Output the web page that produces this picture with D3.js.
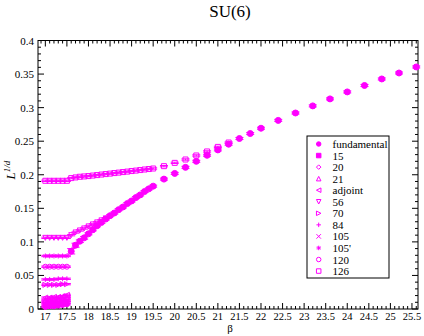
<!DOCTYPE html>
<html>
<head>
<meta charset="utf-8">
<script src="https://cdn.jsdelivr.net/npm/d3@7"></script>
<style>
  body { margin: 0; background: #fff; }
  svg { display: block; }
  text { font-family: "Liberation Serif", "DejaVu Serif", serif; fill: #000; }
</style>
</head>
<body>
<script>
// beta values
const betaConf = [17.0, 17.1, 17.2, 17.3, 17.4, 17.5];
const betaFund = [17.6, 17.7, 17.8, 17.9, 18.0, 18.1, 18.2, 18.3, 18.4, 18.5,
  18.6, 18.7, 18.8, 18.9, 19.0, 19.1, 19.2, 19.3, 19.4, 19.5,
  19.75, 20.0, 20.25, 20.5, 20.75, 21.0, 21.25, 21.5, 21.75, 22.0,
  22.4, 22.8, 23.2, 23.6, 24.0, 24.4, 24.8, 25.2, 25.6];
const beta56 = [17.6, 17.7, 17.8, 17.9, 18.0, 18.1, 18.2, 18.3, 18.4];
const beta126 = [17.6, 17.7, 17.8, 17.9, 18.0, 18.1, 18.2, 18.3, 18.4, 18.5,
  18.6, 18.7, 18.8, 18.9, 19.0, 19.1, 19.2, 19.3, 19.4, 19.5,
  19.75, 20.0, 20.25, 20.5, 20.75, 21.0, 21.25];

// L^{1/d} values
const fundamental = [0.086, 0.095, 0.101, 0.106, 0.112, 0.118, 0.124, 0.129, 0.134, 0.139,
  0.143, 0.148, 0.152, 0.157, 0.161, 0.166, 0.170, 0.175, 0.179, 0.183,
  0.1935, 0.202, 0.211, 0.220, 0.229, 0.237, 0.2455, 0.254, 0.2614, 0.2693,
  0.281, 0.292, 0.3026, 0.313, 0.3234, 0.333, 0.3427, 0.3516, 0.3606];
const fundErr = [0.004, 0.003, 0.002, 0.002, 0.0015, 0.0015, 0.0015, 0.0015, 0.0015, 0.0015,
  0.0015, 0.0015, 0.0015, 0.0015, 0.0015, 0.0015, 0.0015, 0.0015, 0.0015, 0.0015,
  0.0015, 0.0015, 0.0015, 0.0015, 0.0015, 0.0015, 0.0015, 0.0015, 0.0015, 0.0015,
  0.0015, 0.0015, 0.0015, 0.0015, 0.0015, 0.0015, 0.0015, 0.0015, 0.0015];
const fundConf = [0.003, 0.004, 0.004, 0.005, 0.006, 0.007];
const rep15 = [0.006, 0.007, 0.007, 0.008, 0.009, 0.010];
const rep20 = [0.011, 0.011, 0.012, 0.012, 0.013, 0.015];
const rep21 = [0.013, 0.014, 0.014, 0.015, 0.016, 0.018];
const repAdj = [0.017, 0.017, 0.018, 0.018, 0.019, 0.021];
const rep56 = [0.106, 0.106, 0.106, 0.106, 0.106, 0.106];
const rep56High = [0.110, 0.114, 0.117, 0.120, 0.123, 0.126, 0.129, 0.132, 0.135];
const rep70 = [0.036, 0.036, 0.036, 0.036, 0.037, 0.037];
const rep84 = [0.044, 0.044, 0.044, 0.045, 0.045, 0.045];
const rep105 = [0.009, 0.009, 0.010, 0.010, 0.011, 0.012];
const rep105p = [0.079, 0.079, 0.079, 0.079, 0.079, 0.079];
const rep120 = [0.063, 0.063, 0.063, 0.063, 0.063, 0.063];
const rep126 = [0.191, 0.191, 0.191, 0.191, 0.191, 0.191];
const rep126High = [0.195, 0.196, 0.197, 0.1975, 0.198, 0.1988, 0.1995, 0.2003, 0.201, 0.2017,
  0.2025, 0.2032, 0.204, 0.2047, 0.2055, 0.2062, 0.207, 0.2078, 0.2085, 0.2093,
  0.2128, 0.2177, 0.2227, 0.2287, 0.2347, 0.2415, 0.248];

const legendNames = ['fundamental', '15', '20', '21', 'adjoint', '56', '70', '84', '105', "105'", '120', '126'];
const legendShapes = ['circle', 'fsquare', 'diamond', 'triup', 'trileft', 'tridown', 'triright', 'plus', 'cross', 'star', 'ocircle', 'osquare'];

const xTicks = d3.range(17, 25.51, 0.5);
const yTicks = d3.range(0, 0.401, 0.05);

const width = 424, height = 336;
const mLeft = 38, mRight = 418, mTop = 40.5, mBottom = 309;
const magenta = '#ff00ff';

const svg = d3.select('body').append('svg')
  .attr('width', width)
  .attr('height', height);

const x = d3.scaleLinear().domain([16.83, 25.64]).range([mLeft, mRight]);
const y = d3.scaleLinear().domain([0, 0.4]).range([mBottom, mTop]);

// title
svg.append('text')
  .attr('x', 230).attr('y', 17)
  .attr('text-anchor', 'middle')
  .style('font-size', '17px')
  .text('SU(6)');

// frame
svg.append('rect')
  .attr('x', mLeft).attr('y', mTop)
  .attr('width', mRight - mLeft).attr('height', mBottom - mTop)
  .attr('fill', 'none').attr('stroke', '#000').attr('stroke-width', 1);

// ticks, inward on all sides
const xMinor = d3.range(16.9, 25.64, 0.1).map(v => Math.round(v * 10) / 10);
const yMinor = d3.range(0, 0.4001, 0.01).map(v => Math.round(v * 100) / 100);
const ticks = svg.append('g').attr('stroke', '#000').attr('stroke-width', 1);
xMinor.forEach(v => {
  const major = Math.abs(v * 2 - Math.round(v * 2)) < 1e-6;
  const len = major ? 6 : 3;
  ticks.append('line').attr('x1', x(v)).attr('x2', x(v)).attr('y1', mBottom).attr('y2', mBottom - len);
  ticks.append('line').attr('x1', x(v)).attr('x2', x(v)).attr('y1', mTop).attr('y2', mTop + len);
});
yMinor.forEach(v => {
  const major = Math.abs(v * 20 - Math.round(v * 20)) < 1e-6;
  const len = major ? 6 : 3;
  ticks.append('line').attr('y1', y(v)).attr('y2', y(v)).attr('x1', mLeft).attr('x2', mLeft + len);
  ticks.append('line').attr('y1', y(v)).attr('y2', y(v)).attr('x1', mRight).attr('x2', mRight - len);
});

// tick labels
svg.append('g').selectAll('text').data(xTicks).enter().append('text')
  .attr('x', d => x(d)).attr('y', 319.5)
  .attr('text-anchor', 'middle')
  .style('font-size', '10.5px')
  .text(d => d3.format('')(d));
svg.append('g').selectAll('text').data(yTicks).enter().append('text')
  .attr('x', 34).attr('y', d => y(d) + 4)
  .attr('text-anchor', 'end')
  .style('font-size', '11px')
  .text(d => d === 0 ? '0' : d3.format('')(+d.toFixed(2)));

// axis labels
svg.append('text')
  .attr('x', 230).attr('y', 332)
  .attr('text-anchor', 'middle')
  .style('font-size', '11px')
  .text('β');
const yl = svg.append('text')
  .attr('transform', 'translate(15,170) rotate(-90)')
  .attr('text-anchor', 'middle')
  .style('font-size', '13px')
  .style('font-style', 'italic');
yl.append('tspan').text('L');
yl.append('tspan').attr('dy', -5).style('font-size', '9px').text('1/d');

// symbol paths
function shapePath(name, s) {
  const h = s / 2;
  switch (name) {
    case 'circle': case 'ocircle':
      return `M${-h},0A${h},${h} 0 1,0 ${h},0A${h},${h} 0 1,0 ${-h},0Z`;
    case 'fsquare': case 'osquare':
      return `M${-h},${-h}H${h}V${h}H${-h}Z`;
    case 'diamond':
      return `M0,${-h}L${h},0L0,${h}L${-h},0Z`;
    case 'triup':
      return `M0,${-h}L${h},${h}L${-h},${h}Z`;
    case 'tridown':
      return `M0,${h}L${h},${-h}L${-h},${-h}Z`;
    case 'trileft':
      return `M${-h},0L${h},${-h}L${h},${h}Z`;
    case 'triright':
      return `M${h},0L${-h},${-h}L${-h},${h}Z`;
    case 'plus':
      return `M${-h},0H${h}M0,${-h}V${h}`;
    case 'cross':
      return `M${-h},${-h}L${h},${h}M${-h},${h}L${h},${-h}`;
    case 'star':
      return `M${-h},0H${h}M0,${-h}V${h}M${-h * 0.7},${-h * 0.7}L${h * 0.7},${h * 0.7}M${-h * 0.7},${h * 0.7}L${h * 0.7},${-h * 0.7}`;
  }
}
const filled = { circle: true, fsquare: true, star: true };

const plot = svg.append('g');

function drawSeries(betas, vals, shape, size, err) {
  const g = plot.append('g');
  betas.forEach((b, i) => {
    const px = x(b), py = y(vals[i]);
    const ev = Array.isArray(err) ? err[i] : err;
    const e = Math.abs(y(0) - y(ev));
    // error bar with caps
    g.append('path')
      .attr('d', `M${px},${py - e}V${py + e}M${px - 4},${py - e}H${px + 4}M${px - 4},${py + e}H${px + 4}`)
      .attr('stroke', magenta).attr('stroke-width', 1).attr('fill', 'none');
    g.append('path')
      .attr('transform', `translate(${px},${py})`)
      .attr('d', shapePath(shape, size))
      .attr('fill', filled[shape] ? magenta : 'none')
      .attr('stroke', magenta).attr('stroke-width', 1);
  });
}

drawSeries(betaConf, fundConf, 'circle', 5, 0.001);
drawSeries(betaConf, rep15, 'fsquare', 4.5, 0.001);
drawSeries(betaConf, rep105, 'cross', 5, 0.001);
drawSeries(betaConf, rep20, 'diamond', 5, 0.001);
drawSeries(betaConf, rep21, 'triup', 5, 0.001);
drawSeries(betaConf, repAdj, 'trileft', 5, 0.001);
drawSeries(betaConf, rep70, 'triright', 5, 0.001);
drawSeries(betaConf, rep84, 'plus', 5, 0.001);
drawSeries(betaConf, rep120, 'ocircle', 5, 0.001);
drawSeries(betaConf, rep105p, 'star', 5, 0.001);
drawSeries(betaConf, rep56, 'tridown', 5, 0.001);
drawSeries(beta56, rep56High, 'tridown', 5, 0.001);
drawSeries(betaConf, rep126, 'osquare', 5, 0.001);
drawSeries(beta126, rep126High, 'osquare', 5, 0.001);
drawSeries(betaFund, fundamental, 'circle', 6, fundErr);

// legend
const lg = svg.append('g');
lg.append('rect')
  .attr('x', 307).attr('y', 136)
  .attr('width', 82).attr('height', 142)
  .attr('fill', '#fff').attr('stroke', '#000').attr('stroke-width', 1);
legendNames.forEach((name, i) => {
  const ly = 144 + i * 11.55;
  lg.append('path')
    .attr('transform', `translate(318.7,${ly})`)
    .attr('d', shapePath(legendShapes[i], 4.5))
    .attr('fill', filled[legendShapes[i]] ? magenta : 'none')
    .attr('stroke', magenta).attr('stroke-width', 1);
  lg.append('text')
    .attr('x', 332.5).attr('y', ly + 4)
    .style('font-size', '11px')
    .text(name);
});
</script>
</body>
</html>
